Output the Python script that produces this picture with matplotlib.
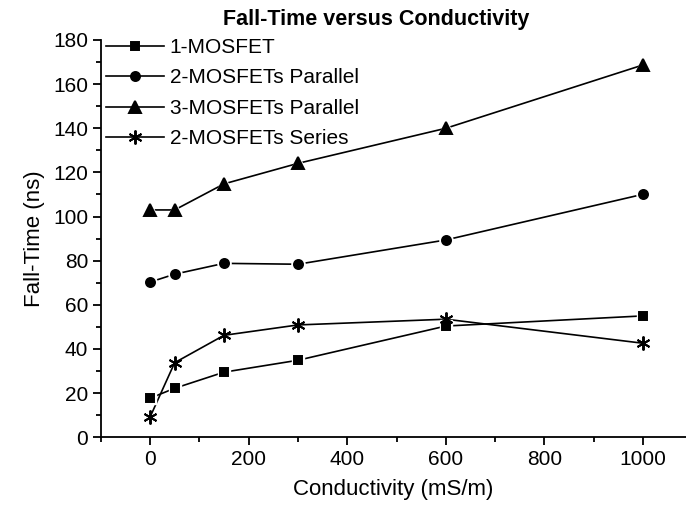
import matplotlib
matplotlib.use('Agg')
import matplotlib.pyplot as plt
from matplotlib.ticker import MultipleLocator

plt.rcParams['font.family'] = ['Liberation Sans', 'DejaVu Sans']

# conductivity (mS/m)
cond = [0, 50, 150, 300, 600, 1000]

# fall-time (ns)
one_mosfet = [17.7, 22.2, 29.5, 34.9, 50.4, 55.0]
two_parallel = [70.3, 73.9, 78.8, 78.4, 89.4, 110.1]
three_parallel = [103.0, 103.0, 114.8, 124.1, 140.0, 168.7]
two_series = [9.1, 33.8, 46.2, 50.9, 53.5, 42.6]

labels = ['1-MOSFET', '2-MOSFETs Parallel', '3-MOSFETs Parallel', '2-MOSFETs Series']

fig = plt.figure(figsize=(6.86, 5.08), dpi=100)
ax = fig.add_axes([0.1468, 0.1392, 0.8532, 0.7821])

styles = [
    (one_mosfet, 's', 6),
    (two_parallel, 'o', 6.5),
    (three_parallel, '^', 8.5),
    (two_series, (6, 2, 0), 10),
]

handles = []
for (vals, mk, ms), lab in zip(styles, labels):
    ax.plot(cond, vals, color='black', lw=1.2, zorder=2)
    if mk != (6, 2, 0):
        # white halo gives the small gap between line and marker
        ax.plot(cond, vals, ls='none', marker=mk, ms=ms + 3, color='white',
                zorder=3)
    ax.plot(cond, vals, ls='none', marker=mk, ms=ms, color='black',
            mec='black', mew=1.4, zorder=4)
    h, = ax.plot([], [], color='black', lw=1.2, marker=mk, ms=ms, mew=1.4)
    handles.append(h)

ax.set_xlim(-100, 1087)
ax.set_ylim(0, 180)
ax.xaxis.set_major_locator(MultipleLocator(200))
ax.xaxis.set_minor_locator(MultipleLocator(100))
ax.yaxis.set_major_locator(MultipleLocator(20))
ax.yaxis.set_minor_locator(MultipleLocator(10))

ax.spines['top'].set_visible(False)
ax.spines['right'].set_visible(False)
for s in ['left', 'bottom']:
    ax.spines[s].set_linewidth(1.3)

ax.tick_params(which='major', direction='out', length=6, width=1.3,
               labelsize=15, pad=3)
ax.tick_params(which='minor', direction='out', length=3.5, width=1.3)

ax.set_xlabel('Conductivity (mS/m)', fontsize=16, labelpad=7)
ax.set_ylabel('Fall-Time (ns)', fontsize=16, labelpad=6)

fig.text(376 / 686, (508 - 25) / 508, 'Fall-Time versus Conductivity',
         ha='center', va='baseline', fontsize=15.5, fontweight='bold')

leg = ax.legend(handles, labels, loc='upper left',
                bbox_to_anchor=(106 / 686, (508 - 38) / 508),
                bbox_transform=fig.transFigure, frameon=False,
                fontsize=15, handlelength=2.8, handletextpad=0.25,
                labelspacing=0.55, borderpad=0, borderaxespad=0)

fig.savefig('out.png', dpi=100)
